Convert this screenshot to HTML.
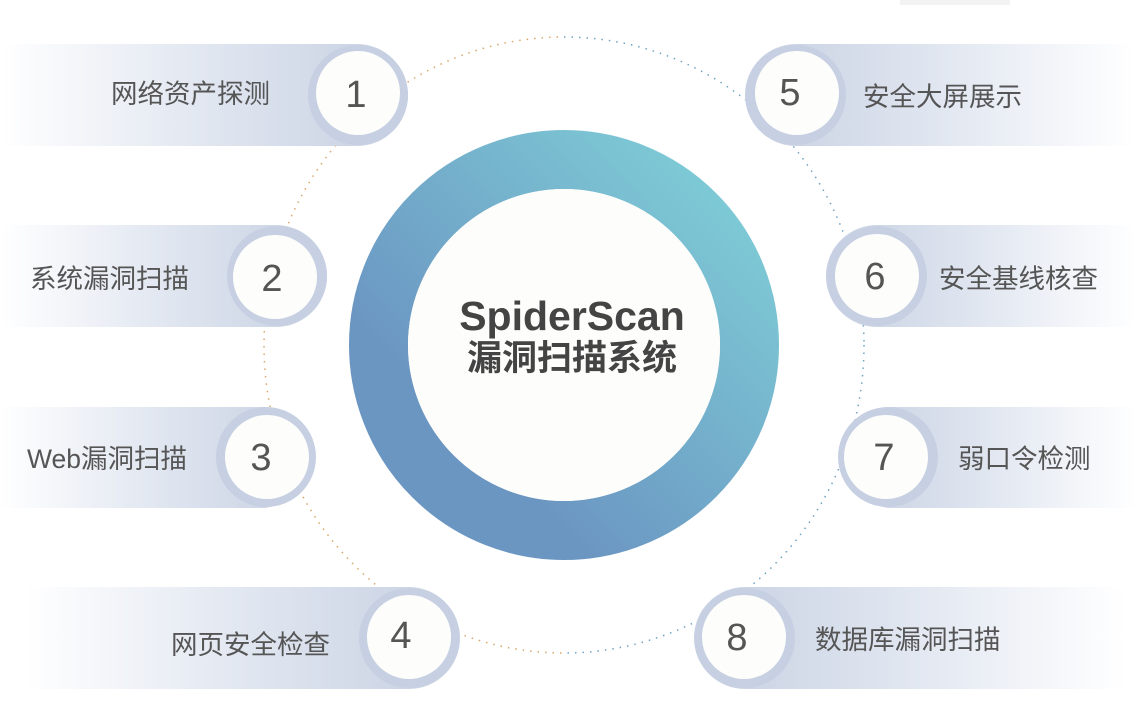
<!DOCTYPE html>
<html><head><meta charset="utf-8"><style>
html,body{margin:0;padding:0;background:#fff;width:1136px;height:710px;overflow:hidden}
svg text{font-family:"Liberation Sans","Noto Sans CJK SC",sans-serif}
</style></head><body>
<svg width="1136" height="710" viewBox="0 0 1136 710" xmlns="http://www.w3.org/2000/svg">
<defs>
<linearGradient id="ring" x1="0" y1="1" x2="1" y2="0">
<stop offset="0.25" stop-color="#6b96c2"/><stop offset="1" stop-color="#80d0d8"/></linearGradient>
<linearGradient id="pl" x1="1" y1="0" x2="0" y2="0">
<stop offset="0" stop-color="#c6d0e2"/><stop offset="0.55" stop-color="#e4e9f2"/><stop offset="1" stop-color="#ffffff"/></linearGradient>
<linearGradient id="pr" x1="0" y1="0" x2="1" y2="0">
<stop offset="0" stop-color="#c6d0e2"/><stop offset="0.55" stop-color="#e4e9f2"/><stop offset="1" stop-color="#ffffff"/></linearGradient>
<clipPath id="cl"><rect x="0" y="0" width="564" height="710"/></clipPath>
<clipPath id="cr"><rect x="564" y="0" width="572" height="710"/></clipPath>
</defs>
<rect x="900" y="0" width="110" height="5" fill="#f3f3f3"/>
<ellipse cx="564" cy="345" rx="300" ry="308" fill="none" stroke="#d9a66b" stroke-width="1.5" stroke-dasharray="1.5 6" clip-path="url(#cl)"/>
<ellipse cx="564" cy="345" rx="300" ry="308" fill="none" stroke="#6fa3c4" stroke-width="1.5" stroke-dasharray="1.5 6" clip-path="url(#cr)"/>
<circle cx="564" cy="345" r="185.5" fill="none" stroke="url(#ring)" stroke-width="59"/>
<circle cx="564" cy="345" r="156" fill="#fdfdfb"/>
<text x="572" y="330" font-size="41" font-weight="bold" fill="#444" text-anchor="middle">SpiderScan</text>
<text x="572" y="370" font-size="35" font-weight="bold" fill="#444" text-anchor="middle">漏洞扫描系统</text>

<g>
<path d="M0 44 H357 A51 51 0 0 1 357 146 H0 Z" fill="url(#pl)"/>
<circle cx="358" cy="95" r="50" fill="#c6d0e2"/>
<circle cx="358" cy="93" r="42" fill="#fdfdfb"/>
<text x="356" y="107" font-size="38" fill="#555" text-anchor="middle">1</text>
<text x="270" y="103" font-size="26.5" fill="#555" text-anchor="end">网络资产探测</text>

<path d="M0 225 H276 A51 51 0 0 1 276 327 H0 Z" fill="url(#pl)"/>
<circle cx="277" cy="276" r="50" fill="#c6d0e2"/>
<circle cx="275" cy="277" r="42" fill="#fdfdfb"/>
<text x="272" y="291" font-size="38" fill="#555" text-anchor="middle">2</text>
<text x="189" y="288" font-size="26.5" fill="#555" text-anchor="end">系统漏洞扫描</text>

<path d="M0 407 H265 A51 51 0 0 1 265 508 H0 Z" fill="url(#pl)"/>
<circle cx="266" cy="457" r="50" fill="#c6d0e2"/>
<circle cx="267" cy="457" r="42" fill="#fdfdfb"/>
<text x="261" y="470" font-size="38" fill="#555" text-anchor="middle">3</text>
<text x="187" y="468" font-size="26.5" fill="#555" text-anchor="end">Web漏洞扫描</text>

<path d="M25 587 H409 A51 51 0 0 1 409 689 H25 Z" fill="url(#pl)"/>
<circle cx="409" cy="638" r="50" fill="#c6d0e2"/>
<circle cx="409" cy="637" r="42" fill="#fdfdfb"/>
<text x="401" y="648" font-size="38" fill="#555" text-anchor="middle">4</text>
<text x="330" y="654" font-size="26.5" fill="#555" text-anchor="end">网页安全检查</text>
</g>
<g>
<path d="M1136 44 H796 A51 51 0 0 0 796 146 H1136 Z" fill="url(#pr)"/>
<circle cx="796" cy="95" r="50" fill="#c6d0e2"/>
<circle cx="797" cy="93" r="42" fill="#fdfdfb"/>
<text x="790" y="105" font-size="38" fill="#555" text-anchor="middle">5</text>
<text x="863" y="106" font-size="26.5" fill="#555">安全大屏展示</text>

<path d="M1136 225 H877 A51 51 0 0 0 877 327 H1136 Z" fill="url(#pr)"/>
<circle cx="877" cy="276" r="50" fill="#c6d0e2"/>
<circle cx="877" cy="276" r="42" fill="#fdfdfb"/>
<text x="875" y="289" font-size="38" fill="#555" text-anchor="middle">6</text>
<text x="939" y="288" font-size="26.5" fill="#555">安全基线核查</text>

<path d="M1136 407 H888 A51 51 0 0 0 888 508 H1136 Z" fill="url(#pr)"/>
<circle cx="888" cy="457" r="50" fill="#c6d0e2"/>
<circle cx="886" cy="457" r="42" fill="#fdfdfb"/>
<text x="884" y="470" font-size="38" fill="#555" text-anchor="middle">7</text>
<text x="958" y="468" font-size="26.5" fill="#555">弱口令检测</text>

<path d="M1125 587 H745 A51 51 0 0 0 745 689 H1125 Z" fill="url(#pr)"/>
<circle cx="745" cy="638" r="50" fill="#c6d0e2"/>
<circle cx="744" cy="637" r="42" fill="#fdfdfb"/>
<text x="737" y="650" font-size="38" fill="#555" text-anchor="middle">8</text>
<text x="815" y="649" font-size="26.5" fill="#555">数据库漏洞扫描</text>
</g>
</svg>
</body></html>
